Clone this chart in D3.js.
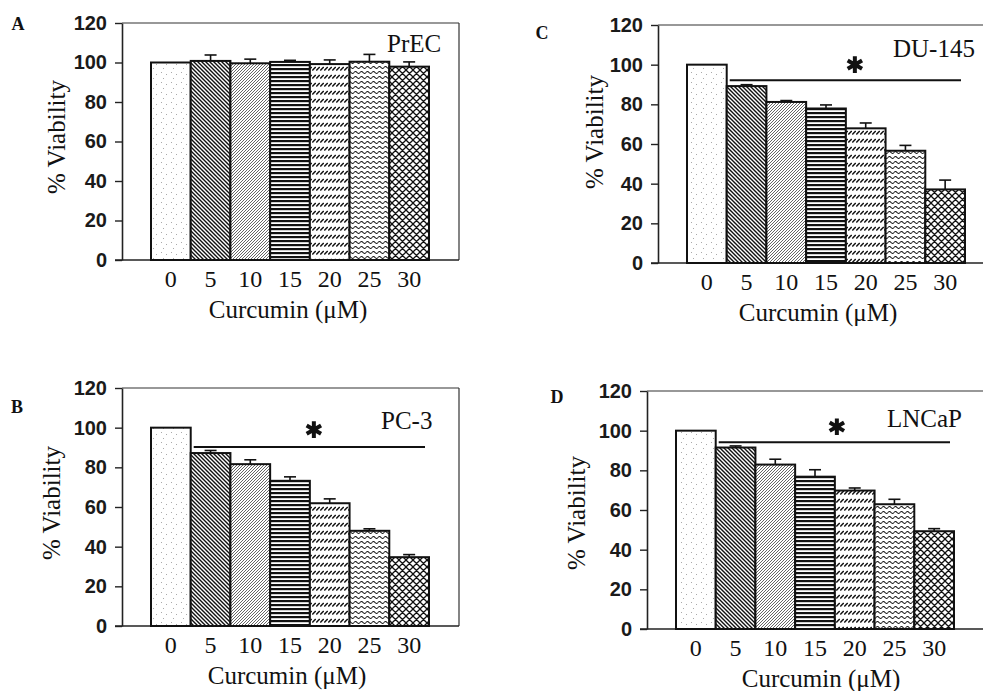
<!DOCTYPE html>
<html><head><meta charset="utf-8">
<script src="https://cdn.jsdelivr.net/npm/d3@7"></script>
<style>
html,body{margin:0;padding:0;background:#fff;}
svg{display:block;}
</style></head>
<body>
<svg id="chart" width="983" height="691"></svg>
<script>
// ---------- data ----------
const categories = ["0", "5", "10", "15", "20", "25", "30"];
const yTicks = [0, 20, 40, 60, 80, 100, 120];

const precValues  = [100, 100.8, 99.6, 100.3, 99.2, 100.4, 97.9];
const precErrors  = [0, 3.0, 2.1, 0.8, 2.1, 3.7, 2.4];

const pc3Values   = [100, 87.2, 81.6, 73.2, 61.9, 48.0, 34.7];
const pc3Errors   = [0, 1.3, 2.2, 2.0, 2.2, 1.0, 1.3];

const du145Values = [100, 89.2, 81.2, 77.9, 67.9, 56.6, 37.1];
const du145Errors = [0, 0.7, 0.7, 1.8, 2.7, 2.7, 4.7];

const lncapValues = [100, 91.5, 82.9, 76.8, 69.8, 62.9, 49.3];
const lncapErrors = [0, 0.8, 2.7, 3.5, 1.3, 2.5, 1.3];

const panelLetters = ["A", "B", "C", "D"];
const cellLines = ["PrEC", "PC-3", "DU-145", "LNCaP"];
const sigLevels = [null, 90.2, 92.2, 94.2];
const starLevels = [null, 99, 100, 102];
const xTitle = "Curcumin (\u03bcM)";
const yTitle = "% Viability";

// ---------- layout ----------
const panels = [
  {values: precValues, errors: precErrors, left: 122, top: 23, bottom: 260,
   letter: [18, 30], cell: [387, 52], ylab: [57, 137], xlabDx: -2, starDx: 0},
  {values: pc3Values, errors: pc3Errors, left: 122, top: 388, bottom: 626,
   letter: [17, 413], cell: [381, 429], ylab: [52, 503], xlabDx: -3, starDx: 4},
  {values: du145Values, errors: du145Errors, left: 658, top: 25, bottom: 263,
   letter: [542, 39], cell: [893, 57], ylab: [595, 132], xlabDx: -8, starDx: 9},
  {values: lncapValues, errors: lncapErrors, left: 647, top: 391, bottom: 629,
   letter: [557, 403], cell: [887, 427], ylab: [577, 513], xlabDx: 6, starDx: 2}
];
const plotW = 337;
const padL = 29, padR = 30;

const serif = "'Liberation Serif','Times New Roman',serif";
const sans = "'Liberation Sans',Arial,sans-serif";

const svg = d3.select("#chart");
const defs = svg.append("defs");

// ---------- fill patterns ----------
function pat(id, w, h, build) {
  const p = defs.append("pattern").attr("id", id).attr("patternUnits", "userSpaceOnUse")
    .attr("width", w).attr("height", h);
  p.append("rect").attr("width", w).attr("height", h).attr("fill", "#fff");
  build(p);
}
pat("p0", 10, 10, p => {
  [[1,2],[6,4],[3,8]].forEach(d =>
    p.append("rect").attr("x", d[0]).attr("y", d[1]).attr("width", 1).attr("height", 1).attr("fill", "#aaa"));
});
pat("p1", 4, 4, p => p.append("path").attr("d", "M-1,-1L5,5M3,-1L5,1M-1,3L1,5")
  .attr("stroke", "#111").attr("stroke-width", 1.4));
pat("p2", 3, 3, p => p.append("path").attr("d", "M-1,4L4,-1M-1,1L1,-1M2,4L4,2")
  .attr("stroke", "#555").attr("stroke-width", 0.9));
pat("p3", 4, 4, p => p.append("rect").attr("y", 0).attr("width", 4).attr("height", 2.2).attr("fill", "#111"));
pat("p4", 4, 8, p => p.append("path").attr("d", "M0.3,6.5L3.7,3")
  .attr("stroke", "#111").attr("stroke-width", 1.4));
pat("p5", 6, 5, p => p.append("path").attr("d", "M0,2.5Q1.5,0.6 3,2.5T6,2.5")
  .attr("fill", "none").attr("stroke", "#111").attr("stroke-width", 1.1));
pat("p6", 7, 7, p => p.append("path").attr("d", "M0,0L7,7M7,0L0,7M-1,6L1,8M6,-1L8,1M-1,1L1,-1M6,8L8,6")
  .attr("stroke", "#111").attr("stroke-width", 1.3));

// ---------- panels ----------
panels.forEach((P, i) => {
  const g = svg.append("g");
  const right = P.left + plotW;
  const x = d3.scaleBand().domain(categories).range([P.left + padL, right - padR]).padding(0);
  const y = d3.scaleLinear().domain([0, 120]).range([P.bottom, P.top]);
  const rows = categories.map((c, j) => ({c, v: P.values[j], e: P.errors[j], j}));

  // frame top/right
  g.append("line").attr("x1", P.left).attr("x2", right).attr("y1", P.top).attr("y2", P.top)
    .attr("stroke", "#333").attr("stroke-width", 1.2);
  g.append("line").attr("x1", right).attr("x2", right).attr("y1", P.top).attr("y2", P.bottom)
    .attr("stroke", "#333").attr("stroke-width", 1.2);

  // y axis
  const ya = g.append("g").attr("transform", `translate(${P.left},0)`)
    .call(d3.axisLeft(y).tickValues(yTicks).tickSize(7).tickSizeOuter(0).tickPadding(8));
  ya.select(".domain").attr("stroke", "#222").attr("stroke-width", 1.6);
  ya.selectAll(".tick line").attr("stroke", "#222").attr("stroke-width", 1.4);
  ya.selectAll(".tick text").attr("font-family", sans).attr("font-size", 20)
    .attr("font-weight", "bold").attr("fill", "#1a1a1a");

  // bottom axis line
  g.append("line").attr("x1", P.left - 7).attr("x2", right).attr("y1", P.bottom).attr("y2", P.bottom)
    .attr("stroke", "#222").attr("stroke-width", 1.6);

  // bars
  g.selectAll("rect.bar").data(rows).join("rect").attr("class", "bar")
    .attr("x", d => x(d.c))
    .attr("y", d => y(d.v))
    .attr("width", x.bandwidth())
    .attr("height", d => y(0) - y(d.v))
    .attr("fill", d => `url(#p${d.j})`)
    .attr("stroke", "#111").attr("stroke-width", 2);

  // error bars
  const eb = g.selectAll("g.err").data(rows.filter(d => d.e > 0)).join("g").attr("class", "err");
  eb.append("line")
    .attr("x1", d => x(d.c) + x.bandwidth() / 2)
    .attr("x2", d => x(d.c) + x.bandwidth() / 2)
    .attr("y1", d => y(d.v))
    .attr("y2", d => y(d.v + d.e))
    .attr("stroke", "#111").attr("stroke-width", 1.6);
  eb.append("line")
    .attr("x1", d => x(d.c) + x.bandwidth() / 2 - 6)
    .attr("x2", d => x(d.c) + x.bandwidth() / 2 + 6)
    .attr("y1", d => y(d.v + d.e))
    .attr("y2", d => y(d.v + d.e))
    .attr("stroke", "#111").attr("stroke-width", 1.6);

  // x tick labels
  g.selectAll("text.xt").data(categories).join("text").attr("class", "xt")
    .attr("x", d => x(d) + x.bandwidth() / 2)
    .attr("y", P.bottom + 27)
    .attr("text-anchor", "middle")
    .attr("font-family", serif).attr("font-size", 24).attr("fill", "#111")
    .text(d => d);

  // x title
  const bx0 = x(categories[0]), bx1 = x(categories[categories.length - 1]) + x.bandwidth();
  g.append("text").attr("x", (bx0 + bx1) / 2 + P.xlabDx).attr("y", P.bottom + 58)
    .attr("text-anchor", "middle").attr("font-family", serif).attr("font-size", 25).attr("fill", "#111")
    .text(xTitle);

  // y title
  g.append("text").attr("transform", `translate(${P.ylab[0]},${P.ylab[1]}) rotate(-90)`)
    .attr("text-anchor", "middle").attr("dy", "0.32em")
    .attr("font-family", serif).attr("font-size", 25).attr("fill", "#111")
    .text(yTitle);

  // panel letter
  g.append("text").attr("x", P.letter[0]).attr("y", P.letter[1]).attr("text-anchor", "middle")
    .attr("font-family", serif).attr("font-size", 18).attr("font-weight", "bold").attr("fill", "#111")
    .text(panelLetters[i]);

  // cell line label
  g.append("text").attr("x", P.cell[0]).attr("y", P.cell[1])
    .attr("font-family", serif).attr("font-size", 25).attr("fill", "#111")
    .text(cellLines[i]);

  // significance
  if (sigLevels[i] !== null) {
    g.append("line")
      .attr("x1", x(categories[1]) + 3)
      .attr("x2", x(categories[6]) + x.bandwidth() - 4)
      .attr("y1", y(sigLevels[i])).attr("y2", y(sigLevels[i]))
      .attr("stroke", "#111").attr("stroke-width", 2);
    g.append("path")
      .attr("transform", `translate(${x(categories[4]) + P.starDx},${y(starLevels[i])})`)
      .attr("d", d3.symbol(d3.symbolAsterisk, 195)())
      .attr("fill", "none").attr("stroke", "#111").attr("stroke-width", 4);
  }
});
</script>
</body></html>
